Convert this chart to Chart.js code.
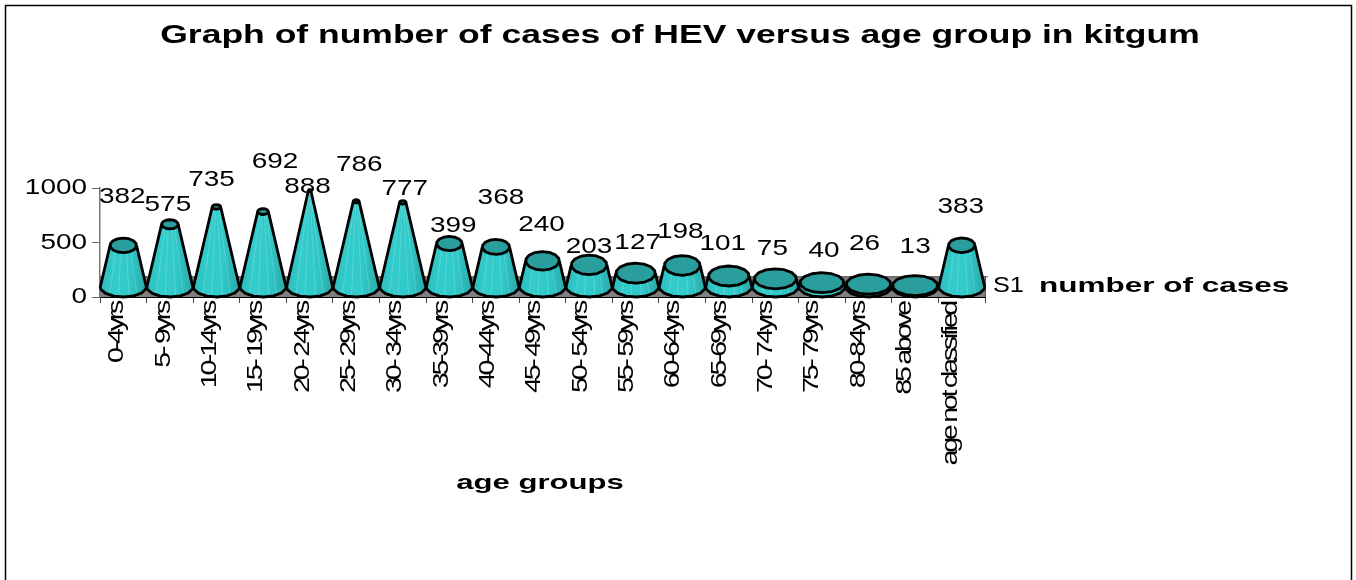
<!DOCTYPE html>
<html>
<head>
<meta charset="utf-8">
<title>HEV cases by age group</title>
<script src="https://cdn.jsdelivr.net/npm/chart.js@4"></script>
<style>
  html, body { margin: 0; padding: 0; background: #fff; overflow: hidden; }
  #wrap { width: 1356px; height: 580px; }
</style>
</head>
<body>
<div id="wrap"><canvas id="hevChart"></canvas></div>
<script>
// --- Data ---
const ageGroups = [
  "0-4yrs", "5- 9yrs", "10-14yrs", "15- 19yrs", "20- 24yrs", "25- 29yrs",
  "30- 34yrs", "35-39yrs", "40-44yrs", "45- 49yrs", "50- 54yrs", "55- 59yrs",
  "60-64yrs", "65-69yrs", "70- 74yrs", "75- 79yrs", "80-84yrs", "85 above",
  "age not classified",
];
const cases = [
  382, 575, 735, 692, 888, 786, 777, 399, 368, 240, 203, 127, 198, 101, 75, 40,
  26, 13, 383,
];
const yTicks = [0, 500, 1000];
const chartTitle = "Graph of number of cases of HEV versus age group in kitgum";
const xTitle = "age groups";
const seriesCode = "S1";
const seriesName = "number of cases";

// where the value labels sit relative to their cone (they wander in the original)
const labelShiftX = [-1, -2, -5, 12, -2, 3, 2, 4, 5, -1, 0, 2, -2, -6, -3, 2, -4, 0, -1];
const labelLift = [58, 29, 37, 60, 13, 46, 23, 28, 59, 46, 28, 40, 43, 42, 40, 42, 50, 49, 48];

const FONT = '"Liberation Sans", Arial, sans-serif';

// The original text is stretched sideways, canvas has no font-stretch for this
function wideText(ctx, text, x, y, opts) {
  ctx.save();
  ctx.translate(x, y);
  if (opts.rotate) ctx.rotate(opts.rotate);
  ctx.scale(opts.sx || 1, 1);
  ctx.font = opts.font;
  ctx.letterSpacing = (opts.spacing || 0) + "px";
  ctx.fillStyle = "#000";
  ctx.textAlign = opts.align || "center";
  ctx.textBaseline = "middle";
  ctx.fillText(text, 0, 0);
  ctx.restore();
}

function facetedRing(cx, cy, rx, ry) {
  const pts = [];
  for (let i = 0; i < 14; i++) {
    const a = (i / 14) * Math.PI * 2 + 0.2;
    pts.push([cx + rx * Math.cos(a), cy + ry * Math.sin(a)]);
  }
  return pts;
}

function conePath(ctx, cx, baseY, topY, rx, ry, topRx) {
  ctx.beginPath();
  ctx.moveTo(cx - topRx, topY);
  ctx.lineTo(cx - rx, baseY);
  facetedRing(cx, baseY, rx, ry)
    .filter((p) => p[1] >= baseY)
    .sort((a, b) => a[0] - b[0])
    .forEach((p) => ctx.lineTo(p[0], p[1]));
  ctx.lineTo(cx + rx, baseY);
  ctx.lineTo(cx + topRx, topY);
}

function drawCone(ctx, cx, baseY, topY, value) {
  const rx = 23;
  const ry = 10;
  const k = Math.max(0.05, 1 - value / 900);
  const topRx = rx * k;
  const topRy = Math.min(ry, topRx * 0.55);

  const grad = ctx.createLinearGradient(cx - rx, 0, cx + rx, 0);
  grad.addColorStop(0, "#2fbcbc");
  grad.addColorStop(0.3, "#33cccc");
  grad.addColorStop(0.65, "#31c8c8");
  grad.addColorStop(1, "#2aa8a8");

  conePath(ctx, cx, baseY, topY, rx, ry, topRx);
  ctx.closePath();
  ctx.fillStyle = grad;
  ctx.fill();

  // pale streaks down the facets
  ctx.strokeStyle = "rgba(170,235,235,0.3)";
  ctx.lineWidth = 1;
  [-0.6, -0.2, 0.25, 0.6].forEach((f) => {
    ctx.beginPath();
    ctx.moveTo(cx + topRx * f, topY + topRy);
    ctx.lineTo(cx + rx * f, baseY + ry * 0.8);
    ctx.stroke();
  });

  ctx.strokeStyle = "#000";
  ctx.lineWidth = 2.8;
  ctx.lineJoin = "round";
  conePath(ctx, cx, baseY, topY, rx, ry, topRx);
  ctx.stroke();

  // top face
  ctx.beginPath();
  facetedRing(cx, topY, topRx, topRy).forEach((p, i) =>
    i ? ctx.lineTo(p[0], p[1]) : ctx.moveTo(p[0], p[1])
  );
  ctx.closePath();
  ctx.fillStyle = "#2a9d9d";
  ctx.fill();
  ctx.stroke();
}

const conePlugin = {
  id: "cones",
  beforeDatasetsDraw(chart) {
    const { ctx, chartArea, scales } = chart;
    const floorTop = scales.y.getPixelForValue(190);
    const y0 = scales.y.getPixelForValue(0);
    ctx.save();
    ctx.fillStyle = "#808080";
    ctx.fillRect(chartArea.left, floorTop, chartArea.right - chartArea.left, y0 - floorTop);
    ctx.strokeStyle = "#555";
    ctx.lineWidth = 1;
    ctx.beginPath();
    ctx.moveTo(chartArea.left, floorTop + 0.5);
    ctx.lineTo(chartArea.right + 3, floorTop + 0.5);
    ctx.moveTo(chartArea.right + 0.5, floorTop);
    ctx.lineTo(chartArea.right + 0.5, y0);
    ctx.stroke();
    ctx.restore();
  },
  afterDatasetsDraw(chart) {
    const { ctx, scales } = chart;
    const meta = chart.getDatasetMeta(0);
    const y0 = scales.y.getPixelForValue(0);
    ctx.save();
    cases.forEach((v, i) => {
      drawCone(ctx, meta.data[i].x, y0 - 10, scales.y.getPixelForValue(v) - 10, v);
    });
    ctx.restore();
  },
  afterDraw(chart) {
    const { ctx, chartArea, scales } = chart;
    const meta = chart.getDatasetMeta(0);
    const y0 = scales.y.getPixelForValue(0);

    // frame: no bottom edge in the original
    ctx.save();
    ctx.strokeStyle = "#000";
    ctx.lineWidth = 1.5;
    ctx.beginPath();
    ctx.moveTo(5.5, 580);
    ctx.lineTo(5.5, 5.5);
    ctx.lineTo(1351.5, 5.5);
    ctx.lineTo(1351.5, 580);
    ctx.stroke();
    ctx.restore();

    wideText(ctx, chartTitle, 680, 36, { font: "bold 25px " + FONT, sx: 1.42 });

    yTicks.forEach((t) => {
      wideText(ctx, String(t), 87, scales.y.getPixelForValue(t), {
        font: "22px " + FONT, sx: 1.27, align: "right",
      });
    });

    ageGroups.forEach((g, i) => {
      wideText(ctx, g, meta.data[i].x - 6 - i * 0.25, y0 + 6, {
        font: "22px " + FONT, sx: 1.3, spacing: -2.5, align: "right",
        rotate: -Math.PI / 2,
      });
    });

    cases.forEach((v, i) => {
      wideText(ctx, String(v), meta.data[i].x + labelShiftX[i], scales.y.getPixelForValue(v) - labelLift[i], {
        font: "22px " + FONT, sx: 1.27,
      });
    });

    wideText(ctx, xTitle, 540, 483, { font: "bold 21px " + FONT, sx: 1.48 });
    wideText(ctx, seriesCode, chartArea.right + 8, y0 - 11, { font: "22px " + FONT, sx: 1.15, align: "left" });
    wideText(ctx, seriesName, chartArea.right + 54, y0 - 11, { font: "bold 21px " + FONT, sx: 1.5, align: "left" });
  },
};

new Chart(document.getElementById("hevChart"), {
  type: "bar",
  data: {
    labels: ageGroups,
    datasets: [{ label: seriesName, data: cases, backgroundColor: "transparent" }],
  },
  plugins: [conePlugin],
  options: {
    responsive: true,
    maintainAspectRatio: false,
    animation: false,
    layout: { padding: { top: 188, right: 371, left: 0, bottom: 0 } },
    plugins: { legend: { display: false }, tooltip: { enabled: false } },
    scales: {
      x: {
        offset: true,
        afterFit(scale) { scale.height = 283; },
        grid: { drawOnChartArea: false, offset: true, color: "#444", tickLength: 6, tickWidth: 1 },
        border: { color: "#000", width: 2 },
        ticks: { display: false },
      },
      y: {
        min: 0,
        max: 1000,
        afterFit(scale) { scale.width = 100; },
        afterBuildTicks(scale) { scale.ticks = yTicks.map((value) => ({ value })); },
        grid: { drawOnChartArea: false, color: "#666", tickLength: 8 },
        border: { color: "#777", width: 1.5 },
        ticks: { display: false },
      },
    },
  },
});
</script>
</body>
</html>
